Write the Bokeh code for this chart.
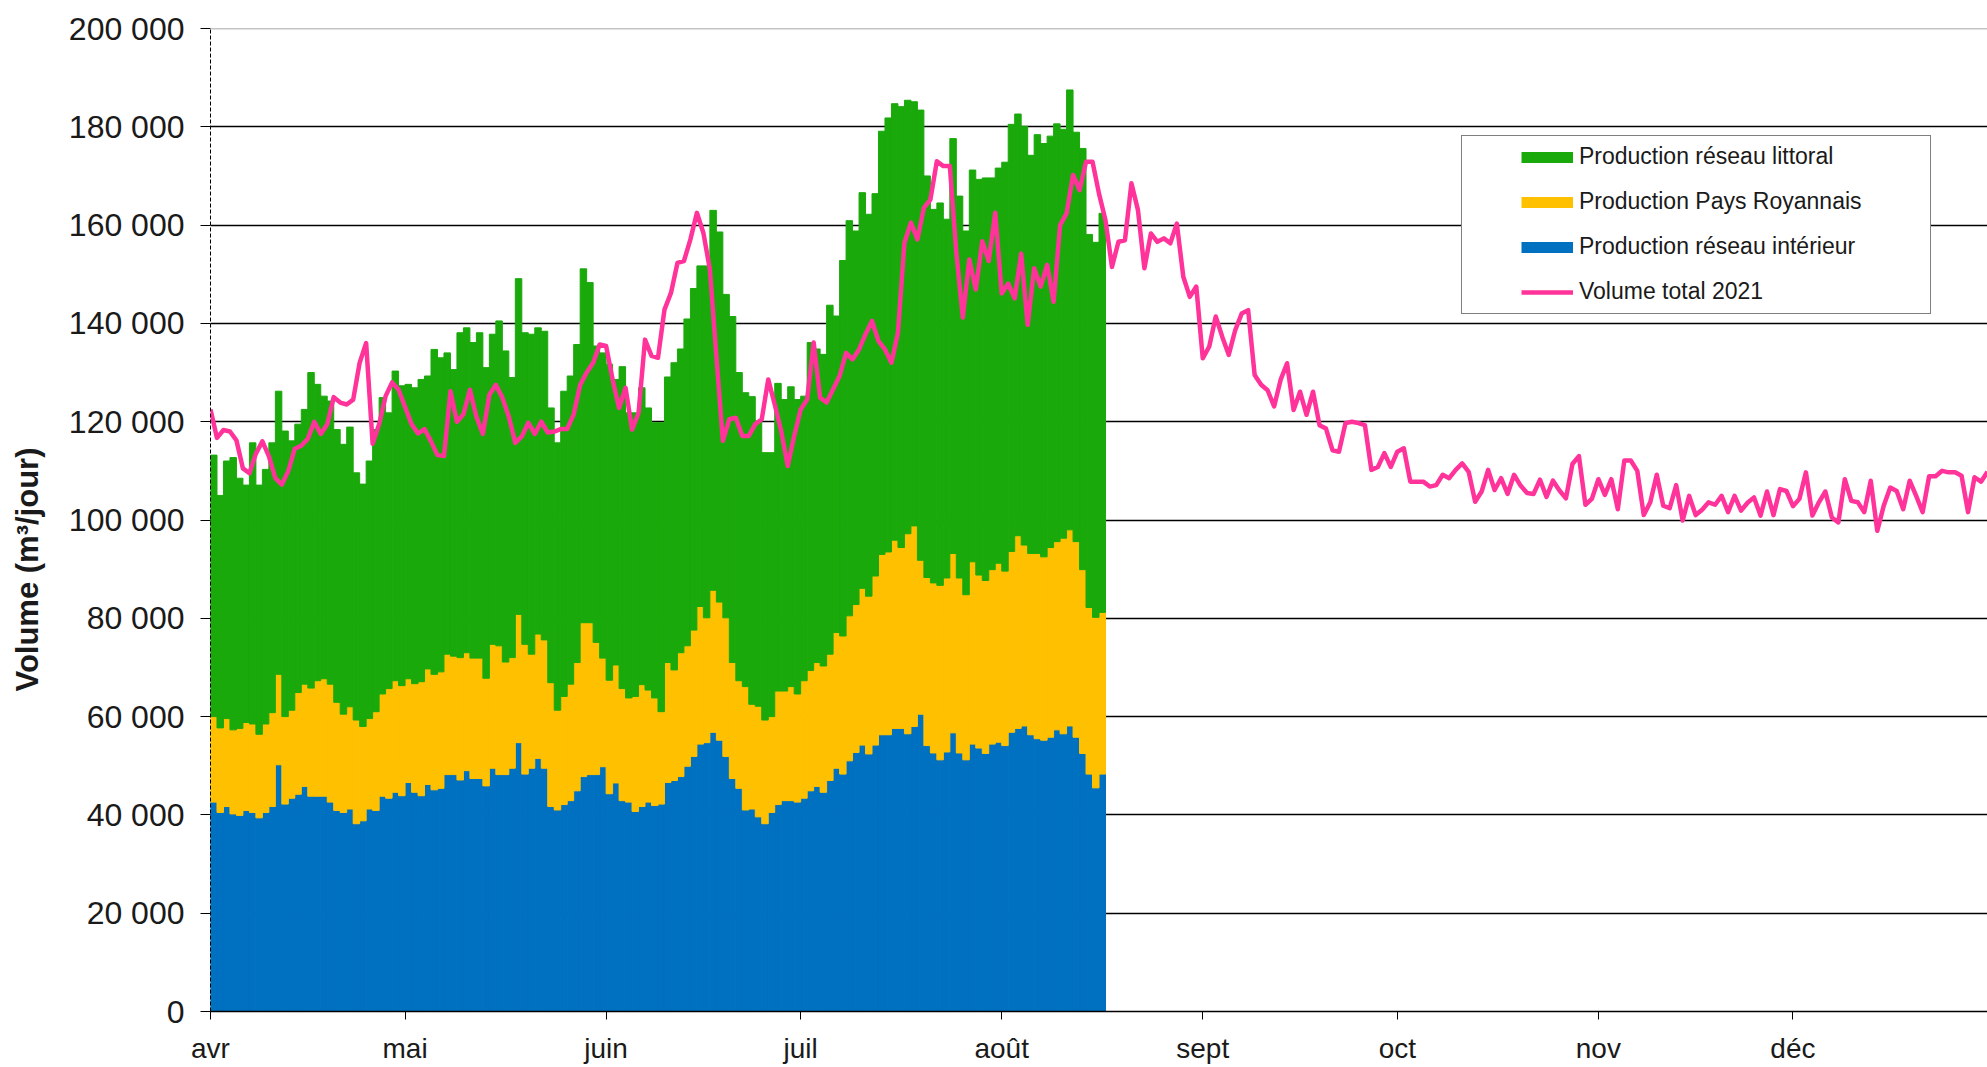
import pandas as pd
from bokeh.plotting import figure
from bokeh.models import (ColumnDataSource, Range1d, FixedTicker, Legend,
                          LegendItem, Span, Title)
from bokeh.embed import file_html
from bokeh.resources import INLINE

# ---------------- data (m3 / day) ----------------
MONTH_LABELS = ["avr", "mai", "juin", "juil", "août", "sept", "oct", "nov", "déc"]
Y_TICKS = [0, 20000, 40000, 60000, 80000, 100000, 120000, 140000, 160000, 180000, 200000]
Y_TITLE = "Volume (m³/jour)"

# daily production from 1 April 2021
interieur = [42600, 40500, 41700, 40200, 39900, 40900, 40500, 39400, 40500, 41700,
             50200, 42200, 43400, 44200, 45800, 43800, 43800, 43800, 42600, 40900,
             40500, 41200, 38200, 38800, 41200, 40900, 43800, 43400, 44600, 43900,
             46600, 44600, 43900, 46200, 45100, 45400, 48200, 48200, 47100, 49000,
             47400, 47400, 45900, 49500, 48200, 48200, 49500, 54700, 48300, 49500,
             51500, 49500, 41700, 41000, 42100, 42900, 44900, 47800, 48200, 48200,
             49800, 44300, 46500, 42900, 42600, 40700, 41700, 42600, 41900, 42200,
             46600, 47000, 47800, 49900, 51900, 54400, 54700, 56800, 55200, 51900,
             47400, 45400, 41000, 41200, 39600, 38200, 40500, 42100, 42900, 42900,
             42600, 43400, 44900, 45800, 44600, 47000, 49500, 48300, 51000, 52700,
             54200, 52400, 54200, 56300, 56300, 57600, 57600, 56500, 58000, 60500,
             54100, 52600, 51200, 52800, 56700, 52600, 51200, 54400, 53600, 52500,
             54400, 54800, 54100, 56800, 57600, 58100, 56300, 55500, 55200, 55800,
             57300, 56500, 58100, 55800, 52500, 48300, 45500, 48300]

royannais = [17400, 17200, 17900, 17100, 17700, 17900, 18000, 17000, 18000, 19100,
             18400, 17800, 17900, 20700, 20800, 22000, 23500, 23900, 24000, 22000,
             20000, 20800, 21100, 19200, 18400, 20100, 20800, 22300, 22700, 22400,
             21100, 22100, 23200, 23500, 23500, 23700, 24500, 24100, 24900, 24000,
             24500, 24500, 21900, 25200, 26200, 22900, 22500, 26100, 26400, 23200,
             25300, 26100, 25200, 20300, 22000, 23700, 26100, 31300, 30900, 26900,
             22100, 23100, 24000, 22800, 21200, 23400, 24800, 22800, 21900, 18800,
             24400, 22500, 25200, 24500, 25700, 28000, 25400, 28900, 28100, 28200,
             23600, 21900, 25100, 21300, 22500, 21100, 19500, 23100, 22300, 23200,
             22000, 23900, 24500, 25200, 25700, 25700, 27600, 28100, 29500, 30100,
             31900, 32100, 34400, 36700, 37200, 38300, 36800, 40700, 40800, 31300,
             34200, 34600, 35500, 35400, 36500, 35600, 33600, 37100, 35200, 35200,
             35500, 36400, 35500, 36800, 39200, 36800, 36900, 37700, 37300, 38600,
             38300, 39800, 39900, 39800, 37400, 33900, 34700, 32900]

littoral = [53200, 47300, 52400, 55400, 50900, 48300, 57200, 50700, 51800, 54900,
            57600, 58100, 54800, 54600, 55900, 64200, 60300, 57500, 57600, 55500,
            54900, 56900, 50300, 49300, 52400, 57400, 60300, 56100, 63000, 61000,
            59900, 60200, 61500, 59600, 66100, 63900, 61300, 58300, 66100, 66100,
            64200, 66200, 63200, 63100, 66100, 63300, 57000, 68300, 63400, 65100,
            62300, 62800, 55900, 54400, 62100, 62700, 64700, 72000, 69200, 60300,
            62100, 64300, 58100, 65500, 58000, 57700, 60400, 57400, 56000, 58800,
            58100, 62500, 61800, 66500, 69500, 69300, 71600, 77300, 75300, 65800,
            70400, 62700, 59800, 62600, 58000, 54400, 53700, 62600, 59300, 61000,
            59900, 57900, 66700, 63800, 63400, 71000, 64400, 76400, 80400, 76000,
            80500, 77700, 77800, 86100, 88300, 88800, 89700, 88200, 86300, 91600,
            81700, 76000, 77800, 73000, 84400, 77700, 74000, 79700, 80500, 81900,
            79700, 80400, 83200, 86900, 85800, 85200, 81000, 85200, 84100, 83700,
            85000, 83200, 89500, 83300, 85700, 75900, 76300, 81200]

volume_total = [
    122500, 116700, 118300, 118000, 116200, 110500, 109500, 113500, 116000, 113000,
    108500, 107200, 110000, 114500, 115100, 116500, 120000, 117500, 119500, 125000,
    123900, 123500, 124500, 132000, 136000, 115500, 119500, 125200, 128000, 126500,
    123000, 119500, 117600, 118500, 116000, 113200, 113000, 126200, 120000, 121500,
    126500, 121000, 117500, 125500, 127500, 124900, 121000, 115700, 117000, 119800,
    117500, 120000, 117800, 118000, 118500, 118500, 121500, 127500, 130000, 132000,
    135700, 135400, 128600, 122800, 126900, 118400, 121800, 136700, 133400, 133000,
    142800, 146200, 152300, 152700, 157100, 162500, 158400, 151000, 133400, 116100,
    120500, 120800, 117100, 117100, 119500, 120500, 128600, 123500, 118100, 111000,
    117100, 122500, 124500, 136100, 124900, 123900, 126600, 129300, 134000, 132700,
    134700, 137800, 140500, 136400, 134700, 132000, 138100, 156400, 160500, 157100,
    163500, 165200, 173000, 172000, 172000, 154400, 141200, 153000, 146900, 156700,
    152700, 162500, 146100, 148100, 145100, 154200, 139700, 151200, 147500, 151900,
    144400, 160000, 162400, 170200, 167100, 172900, 172900, 166400, 161000, 151500,
    156600, 156900, 168500, 163100, 151200, 158300, 156600, 157300, 156300, 160300,
    149500, 145400, 147500, 132900, 135300, 141400, 137300, 133600, 138600, 142000,
    142700, 129500, 127500, 126400, 123100, 128500, 131900, 122400, 126100, 121400,
    126100, 119300, 118600, 114200, 113900, 119700, 120000, 119700, 119300, 110200,
    110800, 113600, 110800, 113900, 114600, 107800, 107800, 107800, 106800, 107100,
    109200, 108500, 110200, 111500, 109800, 103700, 105800, 110200, 106100, 108500,
    105300, 109200, 107000, 105500, 105300, 108200, 104700, 108000, 106000, 104400,
    111400, 113000, 103100, 104300, 108300, 105100, 108300, 102200, 112100, 112100,
    110000, 101000, 103600, 109200, 102900, 102400, 107100, 99900, 104900, 101000,
    102100, 103600, 103100, 104900, 101600, 104900, 101900, 103500, 104600, 100900,
    105800, 101000, 106300, 105900, 102800, 104300, 109700, 100900, 103600, 105800,
    100500, 99500, 108300, 103900, 103600, 101600, 108000, 97800, 102900, 106600,
    105900, 102200, 108000, 104900, 101600, 108900, 108900, 110000, 109700, 109700,
    109000, 101600, 108700, 107800, 109800]

SERIES_NAMES = ["Production réseau littoral", "Production Pays Royannais",
                "Production réseau intérieur", "Volume total 2021"]

GREEN = "#1AA90B"
YELLOW = "#FFC000"
BLUE = "#0070C0"
PINK = "#FF3399"
FONT = "Liberation Sans"
NAN = float("nan")

# ---------------- dates ----------------
start = pd.Timestamp("2021-04-01")
bar_dates = pd.date_range(start, periods=len(interieur), freq="D")
line_dates = pd.date_range(start, periods=len(volume_total), freq="D")
month_starts = pd.date_range(start, periods=len(MONTH_LABELS), freq="MS")
DAY_MS = 86400000.0


def ms(ts):
    return float((ts - pd.Timestamp("1970-01-01")) / pd.Timedelta(milliseconds=1))


bar_src = ColumnDataSource(dict(
    x=[ms(d) + DAY_MS / 2 for d in bar_dates],
    interieur=interieur, royannais=royannais, littoral=littoral))
line_src = ColumnDataSource(dict(x=[ms(d) for d in line_dates], y=volume_total))

LEFT, TOP, FRAME_H, BOTTOM = 210, 28, 983, 56
p = figure(width=1987, height=TOP + FRAME_H + BOTTOM, x_axis_type="datetime",
           output_backend="svg", toolbar_location=None,
           x_range=Range1d(ms(line_dates[0]), ms(line_dates[-1])),
           y_range=Range1d(Y_TICKS[0], Y_TICKS[-1]),
           min_border_left=LEFT, min_border_right=0,
           min_border_top=TOP, min_border_bottom=BOTTOM)
p.outline_line_color = None
p.background_fill_color = "white"

# stacked bars
p.vbar_stack(["interieur", "royannais", "littoral"], x="x", width=DAY_MS,
             color=[BLUE, YELLOW, GREEN], line_width=1.0, source=bar_src)

# total volume line
total_line = p.line("x", "y", source=line_src, line_color=PINK, line_width=4.5,
                    line_join="round")

# grid
p.xgrid.visible = False
p.ygrid.ticker = FixedTicker(ticks=Y_TICKS[1:-1])
p.ygrid.grid_line_color = "#000000"
p.ygrid.grid_line_width = 1.5
p.add_layout(Span(location=Y_TICKS[-1], dimension="width",
                  line_color="#8a8a8a", line_width=1.5))

# y axis
p.yaxis.ticker = FixedTicker(ticks=Y_TICKS)
p.yaxis.major_label_overrides = {t: f"{t:,}".replace(",", " ") for t in Y_TICKS}
p.yaxis.axis_line_color = "black"
p.yaxis.axis_line_dash = "4 2"
p.yaxis.axis_line_width = 1
p.yaxis.major_tick_out = 10
p.yaxis.major_tick_in = 0
p.yaxis.minor_tick_out = 0
p.yaxis.minor_tick_in = 0
p.yaxis.major_tick_line_color = "black"
p.yaxis.major_label_standoff = 16
p.yaxis.major_label_text_font = FONT
p.yaxis.major_label_text_font_size = "32px"
p.yaxis.major_label_text_color = "#1a1a1a"
# tiny blank spacer so the title sits further left, as in the original
p.yaxis.axis_label = " "
p.yaxis.axis_label_text_font_size = "6px"
p.yaxis.axis_label_standoff = 5

# y axis title, set a little below the frame centre as in the original
p.add_layout(Title(text=Y_TITLE, align="left", offset=320, standoff=14,
                   text_font=FONT, text_font_style="bold",
                   text_font_size="31px", text_color="#1a1a1a"), "left")

# x axis
p.xaxis.ticker = FixedTicker(ticks=[ms(d) for d in month_starts])
p.xaxis.major_label_overrides = {ms(d): lab for d, lab in zip(month_starts, MONTH_LABELS)}
p.xaxis.axis_line_color = "black"
p.xaxis.axis_line_width = 1.5
p.xaxis.major_tick_out = 8
p.xaxis.major_tick_in = 0
p.xaxis.minor_tick_out = 0
p.xaxis.minor_tick_in = 0
p.xaxis.major_tick_line_color = "black"
p.xaxis.major_label_standoff = 13
p.xaxis.major_label_text_font = FONT
p.xaxis.major_label_text_font_size = "28px"
p.xaxis.major_label_text_color = "#1a1a1a"

# legend: frame box + items
box_dummy = p.line(x=[NAN], y=[NAN], line_alpha=0)
box_legend = Legend(items=[LegendItem(label=" ", renderers=[box_dummy])],
                    location=(1251, 697), padding=0, spacing=0, margin=0,
                    glyph_width=1, glyph_height=177, label_width=467,
                    label_height=177, label_standoff=0,
                    border_line_color="black", border_line_width=1.5,
                    background_fill_color="white", background_fill_alpha=1.0,
                    label_text_font_size="2px")
p.add_layout(box_legend, "center")

lit_key = p.line(x=[NAN], y=[NAN], line_color=GREEN, line_width=11)
roy_key = p.line(x=[NAN], y=[NAN], line_color=YELLOW, line_width=11)
int_key = p.line(x=[NAN], y=[NAN], line_color=BLUE, line_width=11)
items = [LegendItem(label=SERIES_NAMES[0], renderers=[lit_key]),
         LegendItem(label=SERIES_NAMES[1], renderers=[roy_key]),
         LegendItem(label=SERIES_NAMES[2], renderers=[int_key]),
         LegendItem(label=SERIES_NAMES[3], renderers=[total_line])]
legend = Legend(items=items, location=(1311, 706), padding=0, spacing=18,
                margin=0, glyph_width=52, glyph_height=26, label_height=26,
                label_standoff=6, border_line_color=None,
                background_fill_alpha=0.0,
                label_text_font=FONT, label_text_font_size="23px",
                label_text_color="#1a1a1a")
p.add_layout(legend, "center")

open("out.html", "w").write(file_html(p, INLINE))
